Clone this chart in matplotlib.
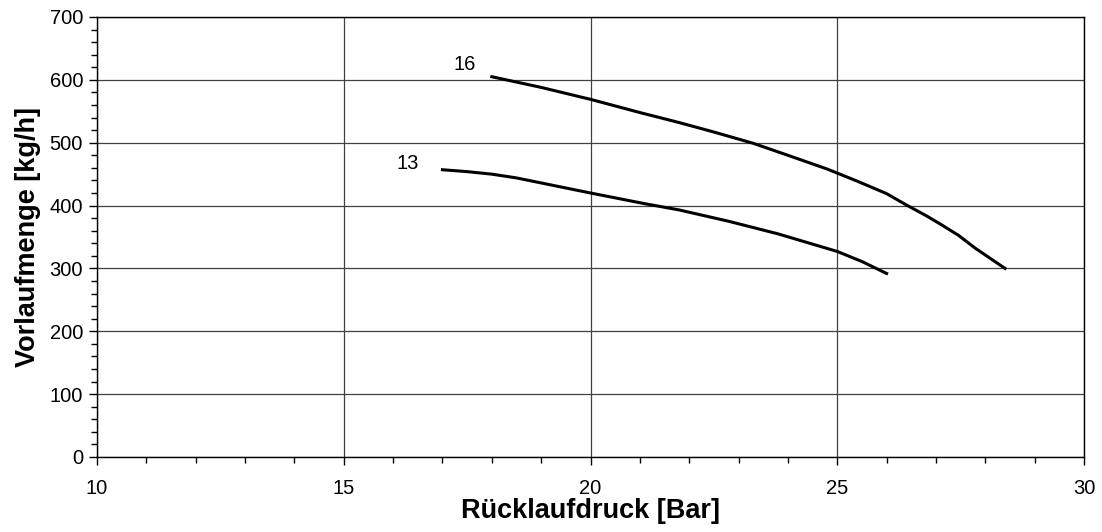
import numpy as np
from matplotlib import pyplot as plt
from matplotlib.ticker import MultipleLocator

# Rücklaufdruck [Bar] vs Vorlaufmenge [kg/h]
druck_16 = [18.0, 19.0, 20.0, 21.0, 21.8, 22.5, 23.3, 24.0, 24.8, 25.4, 26.0, 26.4, 26.8, 27.1, 27.45, 27.8, 28.1, 28.4]
menge_16 = [605, 588, 569, 548, 532, 517, 499, 480, 458, 439, 419, 401, 384, 370, 353, 332, 316, 300]

druck_13 = [17.0, 17.5, 18.0, 18.5, 19.0, 19.5, 20.0, 21.1, 21.8, 22.8, 23.8, 24.7, 25.0, 25.5, 26.0]
menge_13 = [457, 454, 450, 444, 436, 428, 420, 403, 393, 375, 355, 334, 327, 311, 292]

labels = ["16", "13"]
label_pos = [(17.45, 624), (16.3, 467)]

plt.rcParams['font.family'] = ['Liberation Sans', 'DejaVu Sans']

fig = plt.figure(figsize=(11.02, 5.32), dpi=100)
ax = fig.add_axes([97 / 1102, 75 / 532, 987 / 1102, 440 / 532])

ax.plot(druck_16, menge_16, color='black', lw=2.2)
ax.plot(druck_13, menge_13, color='black', lw=2.2)
for txt, (x, y) in zip(labels, label_pos):
    ax.text(x, y, txt, fontsize=14.5, ha='center', va='center')

ax.set_xlim(10, 30)
ax.set_ylim(0, 700)
ax.xaxis.set_major_locator(MultipleLocator(5))
ax.xaxis.set_minor_locator(MultipleLocator(1))
ax.yaxis.set_major_locator(MultipleLocator(100))
ax.yaxis.set_minor_locator(MultipleLocator(20))
ax.grid(True, which='major', color='#404040', lw=0.9)
ax.tick_params(which='major', direction='out', length=6, width=1, labelsize=14.5, pad=4)
ax.tick_params(which='minor', direction='out', length=4, width=1)
ax.tick_params(axis='x', pad=10)
for s in ax.spines.values():
    s.set_color('black')
    s.set_linewidth(1)

ax.set_xlabel("Rücklaufdruck [Bar]", fontsize=19.5, fontweight='bold', labelpad=0)
ax.set_ylabel("Vorlaufmenge [kg/h]", fontsize=19.5, fontweight='bold', labelpad=6)

fig.savefig("out.png", dpi=100)
